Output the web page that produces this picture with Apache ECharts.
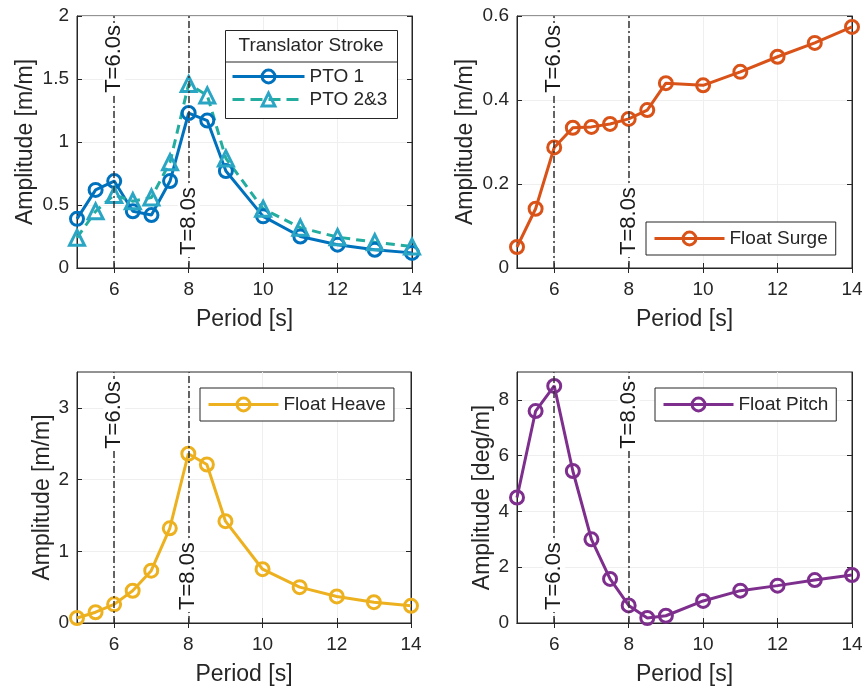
<!DOCTYPE html>
<html lang="en">
<head>
<meta charset="UTF-8">
<title>Response amplitude vs period</title>
<style>
  html, body { margin: 0; padding: 0; background: #fff; }
  #chart { width: 867px; height: 689px; }
</style>
</head>
<body>
<div id="chart"></div>
<script src="https://cdn.jsdelivr.net/npm/echarts@6/dist/echarts.min.js"></script>
<script>
// data
var periods = [5, 5.5, 6, 6.5, 7, 7.5, 8, 8.5, 9, 10, 11, 12, 13, 14];
var pto1  = [0.39, 0.62, 0.69, 0.45, 0.42, 0.69, 1.23, 1.17, 0.77, 0.41, 0.25, 0.185, 0.145, 0.12];
var pto23 = [0.24, 0.45, 0.58, 0.53, 0.56, 0.84, 1.46, 1.37, 0.87, 0.47, 0.32, 0.245, 0.205, 0.17];
var surge = [0.05, 0.141, 0.287, 0.334, 0.336, 0.343, 0.355, 0.376, 0.44, 0.435, 0.467, 0.503, 0.536, 0.574];
var heave = [0.07, 0.15, 0.26, 0.45, 0.73, 1.32, 2.36, 2.21, 1.42, 0.75, 0.50, 0.37, 0.29, 0.24];
var pitch = [4.50, 7.6, 8.5, 5.45, 3.0, 1.58, 0.63, 0.18, 0.26, 0.79, 1.16, 1.34, 1.54, 1.72];

var xTicks = [6, 8, 10, 12, 14];
var yTicks = [[0, 0.5, 1, 1.5, 2], [0, 0.2, 0.4, 0.6], [0, 1, 2, 3], [0, 2, 4, 6, 8]];
var yMax = [2, 0.6, 3.5, 9];
var yNames = ['Amplitude [m/m]', 'Amplitude [m/m]', 'Amplitude [m/m]', 'Amplitude [deg/m]'];

var FONT = "'Liberation Sans', Arial, sans-serif";
var INK = '#262626';

function pairs(ys) {
  return periods.map(function (p, i) { return [p, ys[i]]; });
}

var grids = [
  { left: 77, top: 16, width: 335, height: 252 },
  { left: 517, top: 16, width: 335, height: 252 },
  { left: 77, top: 372, width: 334, height: 251 },
  { left: 517, top: 372, width: 335, height: 251 }
];
grids.forEach(function (g) {
  g.show = true; g.borderColor = INK; g.borderWidth = 1; g.backgroundColor = '#fff';
});

var xAxes = [], yAxes = [];
for (var i = 0; i < 4; i++) {
  xAxes.push({
    type: 'value', gridIndex: i, min: 5, max: 14,
    name: 'Period [s]', nameLocation: 'middle', nameGap: 40,
    nameTextStyle: { fontSize: 23, color: INK, fontFamily: FONT },
    axisLine: { lineStyle: { color: INK, width: 1 } },
    axisTick: { inside: true, length: 5, customValues: xTicks, lineStyle: { color: INK } },
    axisLabel: { customValues: xTicks, fontSize: 19, color: INK, fontFamily: FONT, margin: 12 },
    splitLine: { show: true, lineStyle: { color: '#efefef', width: 1 } }
  });
  // mirrored top axis for the inner ticks of the box
  xAxes.push({
    type: 'value', gridIndex: i, min: 5, max: 14, position: 'top',
    axisLine: { show: true, lineStyle: { color: INK } },
    axisTick: { inside: true, length: 5, customValues: xTicks, lineStyle: { color: INK } },
    axisLabel: { show: false }, splitLine: { show: false }
  });
  var gap = (i === 0 || i === 1) ? 40 : 22;
  yAxes.push({
    type: 'value', gridIndex: i, min: 0, max: yMax[i],
    name: yNames[i], nameLocation: 'middle', nameGap: gap,
    nameTextStyle: { fontSize: 23, color: INK, fontFamily: FONT },
    axisLine: { show: true, lineStyle: { color: INK, width: 1 } },
    axisTick: { show: true, inside: true, length: 5, customValues: yTicks[i], lineStyle: { color: INK } },
    axisLabel: { customValues: yTicks[i], fontSize: 19, color: INK, fontFamily: FONT, margin: 8 },
    splitLine: { show: true, lineStyle: { color: '#efefef', width: 1 } }
  });
  yAxes.push({
    type: 'value', gridIndex: i, min: 0, max: yMax[i], position: 'right',
    axisLine: { show: true, lineStyle: { color: INK } },
    axisTick: { show: true, inside: true, length: 5, customValues: yTicks[i], lineStyle: { color: INK } },
    axisLabel: { show: false }, splitLine: { show: false }
  });
}

// dash-dot period markers, labels along the line
function periodMarks(k, pos6, pos8) {
  function one(x, text, pos) {
    return [
      { coord: [x, 0], label: {
          show: true, formatter: text, position: pos, distance: pos === 'insideEnd' ? 7 : 11,
          fontSize: 22, color: '#1a1a1a', fontFamily: FONT,
          backgroundColor: '#fff', padding: [0, 2] } },
      { coord: [x, yMax[k]] }
    ];
  }
  return {
    silent: true, symbol: 'none', animation: false,
    lineStyle: { color: '#333', width: 1.5, type: [7, 3, 2, 3] },
    data: [one(6, 'T=6.0s', pos6), one(8, 'T=8.0s', pos8)]
  };
}

function lineSeries(name, k, ys, color, opts) {
  opts = opts || {};
  return {
    name: name, type: 'line', xAxisIndex: 2 * k, yAxisIndex: 2 * k,
    data: pairs(ys),
    symbol: opts.symbol || 'circle', symbolSize: opts.size || 13,
    lineStyle: { color: opts.lineColor || color, width: 3, type: opts.dash || 'solid' },
    itemStyle: { color: 'transparent', borderColor: color, borderWidth: 3 },
    emphasis: { disabled: true },
    animation: false, z: 3,
    markLine: opts.markLine
  };
}

var legendText = { fontSize: 19, color: INK, fontFamily: FONT };
function boxLegend(name, left, top) {
  return {
    data: [name], left: left, top: top, selectedMode: false,
    itemWidth: 70, itemHeight: 16,
    borderColor: INK, borderWidth: 1, borderRadius: 0, backgroundColor: '#fff',
    padding: [7, 8, 7, 7], textStyle: legendText,
    itemStyle: { borderWidth: 3 }, lineStyle: { width: 3 }
  };
}

var option = {
  backgroundColor: '#fff',
  textStyle: { fontFamily: FONT },
  grid: grids,
  xAxis: xAxes,
  yAxis: yAxes,
  graphic: [
    { type: 'rect', left: 225, top: 30, z: 3,
      shape: { width: 172, height: 88 },
      style: { fill: '#fff', stroke: INK, lineWidth: 1 } },
    { type: 'line', z: 3, shape: { x1: 225, y1: 62, x2: 397, y2: 62 },
      style: { stroke: INK, lineWidth: 1 } },
    { type: 'text', x: 311, y: 46, z: 4,
      style: { text: 'Translator Stroke', fontSize: 19, fill: INK, font: '19px ' + FONT,
               align: 'center', verticalAlign: 'middle' } }
  ],
  legend: [
    {
      data: ['PTO 1', { name: 'PTO 2&3', lineStyle: { type: 'dashed' } }],
      orient: 'vertical', left: 231, top: 67, itemGap: 4, selectedMode: false,
      itemWidth: 72, itemHeight: 16, padding: 0, textStyle: legendText,
      itemStyle: { borderWidth: 3 }, lineStyle: { width: 3 }
    },
    boxLegend('Float Surge', 646, 222),
    boxLegend('Float Heave', 200, 388),
    boxLegend('Float Pitch', 655, 388)
  ],
  series: [
    lineSeries('PTO 1', 0, pto1, '#0072BD', { markLine: periodMarks(0, 'insideEnd', 'insideStart') }),
    lineSeries('PTO 2&3', 0, pto23, '#2aa6c4', { symbol: 'triangle', size: 15, dash: [9, 6], lineColor: '#22ad9f' }),
    lineSeries('Float Surge', 1, surge, '#D95319', { markLine: periodMarks(1, 'insideEnd', 'insideStart') }),
    lineSeries('Float Heave', 2, heave, '#EDB120', { markLine: periodMarks(2, 'insideEnd', 'insideStart') }),
    lineSeries('Float Pitch', 3, pitch, '#7E2F8E', { markLine: periodMarks(3, 'insideStart', 'insideEnd') })
  ]
};

var myChart = echarts.init(document.getElementById('chart'));
myChart.setOption(option);
</script>
</body>
</html>
